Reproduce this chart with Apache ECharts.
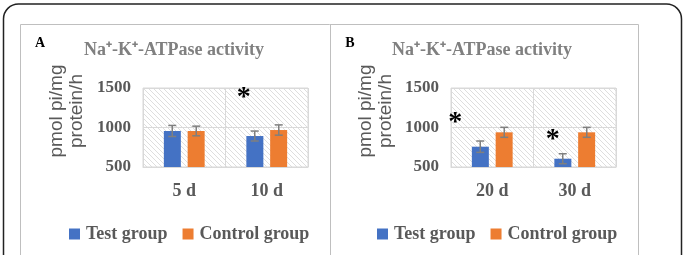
<!DOCTYPE html>
<html>
<head>
    <meta charset="utf-8" />
    <title>Na+-K+-ATPase activity</title>
    <script src="https://cdn.jsdelivr.net/npm/echarts@6.0.0/dist/echarts.min.js"></script>
    <style>
        * { margin: 0; padding: 0; box-sizing: border-box }
        body { background: #fff; width: 686px; height: 255px; overflow: hidden }
        #chart { width: 686px; height: 255px }
    </style>
</head>
<body>
    <div id="chart"></div>
    <script>
        // panel A
        const daysA = ['5 d', '10 d'];
        const testA = [956, 892];
        const testAErr = [70, 63];
        const controlA = [956, 968];
        const controlAErr = [61, 65];
        // panel B
        const daysB = ['20 d', '30 d'];
        const testB = [757, 605];
        const testBErr = [72, 63];
        const controlB = [939, 939];
        const controlBErr = [63, 63];
        // significance marks: [category index, value]
        const starsA = [[1, 1435]];
        const starsB = [[0, 1122], [1, 910]];
        const yTicks = [500, 1000, 1500];

        const BLUE = '#4472C4', ORANGE = '#ED7D31', GREY = '#595959';
        const SERIF = '"Liberation Serif", "Times New Roman", serif';
        const SANS = '"Liberation Sans", Arial, sans-serif';
        const BAR_W = 17, BAR_OFF = 12;

        // light diagonal hatch for the plot area
        const hatch = document.createElement('canvas');
        hatch.width = 5; hatch.height = 5;
        const hc = hatch.getContext('2d');
        hc.fillStyle = '#fff';
        hc.fillRect(0, 0, 5, 5);
        hc.strokeStyle = '#d6d6d6';
        hc.lineWidth = 0.8;
        hc.beginPath();
        hc.moveTo(-1, -1); hc.lineTo(6, 6);
        hc.moveTo(-1, 4); hc.lineTo(1, 6);
        hc.moveTo(4, -1); hc.lineTo(6, 1);
        hc.stroke();

        const chart = echarts.init(document.getElementById('chart'), null, { renderer: 'canvas' });

        function gridOf(left) {
            return {
                left: left, top: 88, width: 165, height: 79,
                show: true,
                backgroundColor: { image: hatch, repeat: 'repeat' },
                borderColor: '#d9d9d9', borderWidth: 1
            };
        }

        function xAxisOf(idx, cats) {
            return {
                gridIndex: idx, type: 'category', data: cats,
                axisLine: { lineStyle: { color: '#d9d9d9' } },
                axisTick: { show: false },
                splitLine: { show: true, lineStyle: { color: '#d9d9d9' } },
                axisLabel: { color: GREY, fontFamily: SERIF, fontWeight: 'bold', fontSize: 18, margin: 15 }
            };
        }

        function yAxisOf(idx) {
            return {
                gridIndex: idx, type: 'value', min: 500, max: 1500, interval: 500,
                axisLine: { show: false }, axisTick: { show: false },
                splitLine: { lineStyle: { color: '#d9d9d9' } },
                axisLabel: {
                    color: GREY, fontFamily: SERIF, fontWeight: 'bold', fontSize: 17, margin: 12,
                    customValues: yTicks,
                    formatter: function (v) { return String(v); }
                }
            };
        }

        function barSeries(name, idx, data, color) {
            return {
                name: name, type: 'bar', xAxisIndex: idx, yAxisIndex: idx,
                data: data, barWidth: BAR_W, barGap: '40%',
                itemStyle: { color: color }
            };
        }

        function errSeries(idx, vals, errs, dx) {
            return {
                type: 'custom', xAxisIndex: idx, yAxisIndex: idx, z: 5, silent: true,
                data: vals.map((v, i) => [i, v, errs[i]]),
                renderItem: function (params, api) {
                    const top = api.coord([api.value(0), api.value(1) + api.value(2)]);
                    const bot = api.coord([api.value(0), api.value(1) - api.value(2)]);
                    const x = top[0] + dx;
                    const style = { stroke: '#7f7f7f', lineWidth: 1.5 };
                    return {
                        type: 'group', children: [
                            { type: 'line', shape: { x1: x, y1: top[1], x2: x, y2: bot[1] }, style: style },
                            { type: 'line', shape: { x1: x - 4, y1: top[1], x2: x + 4, y2: top[1] }, style: style },
                            { type: 'line', shape: { x1: x - 4, y1: bot[1], x2: x + 4, y2: bot[1] }, style: style }
                        ]
                    };
                }
            };
        }

        function starSeries(idx, stars, dxs) {
            return {
                type: 'custom', xAxisIndex: idx, yAxisIndex: idx, z: 6, silent: true,
                data: stars,
                renderItem: function (params, api) {
                    const p = api.coord([api.value(0), api.value(1)]);
                    return {
                        type: 'text', x: p[0] + dxs[params.dataIndex], y: p[1] + 5,
                        style: {
                            text: '*', fill: '#000', fontFamily: SERIF, fontWeight: 'bold', fontSize: 28,
                            align: 'center', verticalAlign: 'middle'
                        }
                    };
                }
            };
        }

        function legendOf(left) {
            return {
                left: left, top: 220, itemWidth: 11, itemHeight: 11, itemGap: 15,
                icon: 'rect',
                data: ['Test group', 'Control group'],
                textStyle: { color: GREY, fontFamily: SERIF, fontWeight: 'bold', fontSize: 18, padding: [0, 0, 0, 1] }
            };
        }

        function panelText(cx, yNameX, letterX, letter) {
            return [
                {
                    type: 'text', x: cx, y: 50,
                    style: {
                        text: 'Na⁺-K⁺-ATPase activity', fill: '#808080', fontFamily: SERIF,
                        fontWeight: 'bold', fontSize: 18, align: 'center', verticalAlign: 'middle'
                    }
                },
                {
                    type: 'text', x: yNameX, y: 111, rotation: Math.PI / 2,
                    style: {
                        text: 'pmol pi/mg\nprotein/h', fill: GREY, fontFamily: SANS, fontSize: 19,
                        lineHeight: 20, align: 'center', verticalAlign: 'middle'
                    }
                },
                {
                    type: 'text', x: letterX, y: 43,
                    style: { text: letter, fill: '#000', fontFamily: SERIF, fontWeight: 'bold', fontSize: 14, align: 'center', verticalAlign: 'middle' }
                }
            ];
        }

        const option = {
            animation: false,
            grid: [gridOf(143), gridOf(451)],
            xAxis: [xAxisOf(0, daysA), xAxisOf(1, daysB)],
            yAxis: [yAxisOf(0), yAxisOf(1)],
            legend: [legendOf(64), legendOf(372)],
            series: [
                barSeries('Test group', 0, testA, BLUE),
                barSeries('Control group', 0, controlA, ORANGE),
                barSeries('Test group', 1, testB, BLUE),
                barSeries('Control group', 1, controlB, ORANGE),
                errSeries(0, testA, testAErr, -BAR_OFF),
                errSeries(0, controlA, controlAErr, BAR_OFF),
                errSeries(1, testB, testBErr, -BAR_OFF),
                errSeries(1, controlB, controlBErr, BAR_OFF),
                starSeries(0, starsA, [-23]),
                starSeries(1, starsB, [-37, -22])
            ],
            graphic: [
                // outer rounded frame and the two panel boxes
                { type: 'rect', shape: { x: 3.5, y: 4, width: 678, height: 300, r: 15 }, style: { fill: 'none', stroke: '#222', lineWidth: 1.5 }, silent: true },
                { type: 'polyline', shape: { points: [[20.5, 300], [20.5, 24.5], [638.5, 24.5], [638.5, 300]] }, style: { fill: 'none', stroke: '#bfbfbf', lineWidth: 1 }, silent: true },
                { type: 'line', shape: { x1: 330.5, y1: 24.5, x2: 330.5, y2: 300 }, style: { stroke: '#bfbfbf', lineWidth: 1 }, silent: true },
                ...panelText(174, 67, 40, 'A'),
                ...panelText(482, 376, 350, 'B')
            ]
        };

        chart.setOption(option);
    </script>
</body>
</html>
